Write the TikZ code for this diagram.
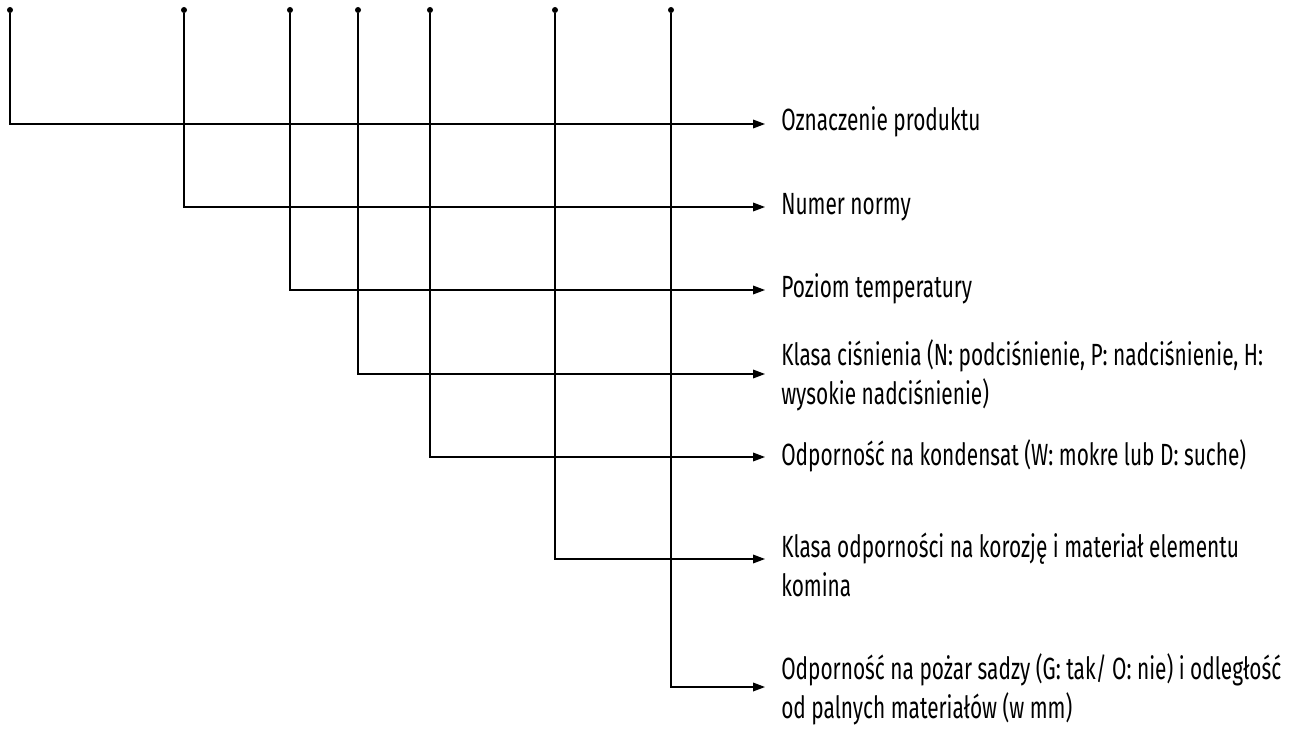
\documentclass[tikz,border=0pt]{standalone}
\usepackage{fontspec}
\setmainfont{Fira Sans}[FakeStretch=0.68]
\usetikzlibrary{arrows.meta}

\begin{document}
\begin{tikzpicture}[x=0.75pt,y=-0.75pt,
  dot/.style={circle,fill,inner sep=0pt,minimum size=4.5pt},
  feed/.style={line width=1pt,-{Triangle[length=9pt,width=6.5pt]}},
  lbl/.style={anchor=base west,align=left,inner sep=0pt,font=\fontsize{23}{29}\selectfont}]
  \useasboundingbox (0,0) rectangle (1294,731);
  \foreach \n/\x/\y in {1/10/124,2/184/207,3/290/290,4/358/374,5/430/457,6/555/559,7/671/687} {
    \node[dot] (d\n) at (\x,10) {};
    \coordinate (t\n) at (765,\y);
    \draw[feed] (d\n) |- (t\n);
  }
  % base anchor of a two-line label sits on its second line
  \node[lbl] (l1) at (781,131) {Oznaczenie produktu};
  \node[lbl] (l2) at (781,214) {Numer normy};
  \node[lbl] (l3) at (781,297) {Poziom temperatury};
  \node[lbl] (l4) at (781,404) {Klasa ciśnienia (N: podciśnienie, P: nadciśnienie, H:\\wysokie nadciśnienie)};
  \node[lbl] (l5) at (781,465) {Odporność na kondensat (W: mokre lub D: suche)};
  \node[lbl] (l6) at (781,596) {Klasa odporności na korozję i materiał elementu\\komina};
  \node[lbl] (l7) at (781,718) {Odporność na pożar sadzy (G: tak/ O: nie) i odległość\\od palnych materiałów (w mm)};
\end{tikzpicture}
\end{document}
